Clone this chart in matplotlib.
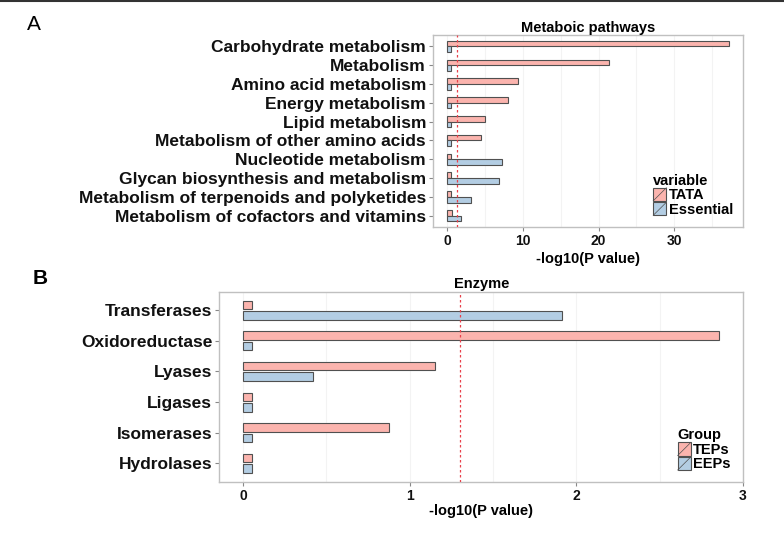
import numpy as np
import matplotlib
matplotlib.use('Agg')
import matplotlib.pyplot as plt
from matplotlib.patches import Rectangle, Patch
from matplotlib.lines import Line2D
from matplotlib.legend_handler import HandlerPatch

plt.rcParams['font.family'] = ['Liberation Sans', 'DejaVu Sans']

# Panel A: metabolic pathways
pathways = ['Carbohydrate metabolism', 'Metabolism', 'Amino acid metabolism',
            'Energy metabolism', 'Lipid metabolism', 'Metabolism of other amino acids',
            'Nucleotide metabolism', 'Glycan biosynthesis and metabolism',
            'Metabolism of terpenoids and polyketides', 'Metabolism of cofactors and vitamins']
tata = [37.2, 21.4, 9.3, 8.1, 5.0, 4.5, 0.5, 0.5, 0.5, 0.65]
essential = [0.55, 0.55, 0.55, 0.55, 0.55, 0.55, 7.2, 6.8, 3.1, 1.9]

# Panel B: enzymes
enzymes = ['Transferases', 'Oxidoreductase', 'Lyases', 'Ligases', 'Isomerases', 'Hydrolases']
teps = [0.055, 2.86, 1.155, 0.055, 0.875, 0.055]
eeps = [1.915, 0.055, 0.42, 0.055, 0.055, 0.055]

threshold = 1.3  # -log10(0.05)

PINK = '#FBB4AE'
BLUE = '#B3CDE3'
EDGE = '#505050'


class SlashHandler(HandlerPatch):
    def create_artists(self, legend, orig_handle, xdescent, ydescent,
                       width, height, fontsize, trans):
        x0, y0 = -xdescent, -ydescent
        r = Rectangle((x0, y0), width, height, facecolor=orig_handle.get_facecolor(),
                      edgecolor=EDGE, linewidth=0.8, transform=trans)
        l = Line2D([x0, x0 + width], [y0, y0 + height], color=EDGE, lw=0.5, transform=trans)
        return [r, l]


def draw_panel(ax, cats, v1, v2, names, title, ticks, minor, legend_title, leg_anchor,
               off, h, title_pad):
    n = len(cats)
    pos = np.arange(n)[::-1] + 1
    ax.barh(pos + off, v1, height=h, color=PINK, edgecolor=EDGE, linewidth=0.8, zorder=3)
    ax.barh(pos - off, v2, height=h, color=BLUE, edgecolor=EDGE, linewidth=0.8, zorder=3)
    vmax = max(max(v1), max(v2))
    ax.set_xlim(-0.05 * vmax, 1.05 * vmax)
    ax.set_ylim(0.4, n + 0.6)
    ax.axvline(threshold, color='#E8404A', lw=0.9, ls=(0, (2, 2)), zorder=4)
    for g in ticks + minor:
        ax.axvline(g, color='#F3F3F3', lw=0.8, zorder=0)
    ax.set_yticks(pos)
    ax.set_yticklabels(cats, fontsize=12.5, fontweight='bold', color='#111111')
    ax.set_xticks(ticks)
    ax.set_xticklabels([str(t) for t in ticks], fontsize=10, fontweight='bold', color='#111111')
    ax.tick_params(length=3, width=0.8, color='#888888', pad=2)
    for s in ax.spines.values():
        s.set_color('#C0C0C0')
        s.set_linewidth(1.0)
    ax.set_title(title, fontsize=10.5, fontweight='bold', pad=title_pad)
    ax.set_xlabel('-log10(P value)', fontsize=10.5, fontweight='bold', labelpad=1)
    handles = [Patch(facecolor=PINK), Patch(facecolor=BLUE)]
    ax.legend(handles, names, title=legend_title, loc='lower right',
              bbox_to_anchor=leg_anchor, frameon=False, fontsize=10.5,
              title_fontproperties={'weight': 'bold', 'size': 10.5},
              prop={'weight': 'bold', 'size': 10.5},
              handlelength=0.9, handleheight=1.0, handletextpad=0.15,
              labelspacing=0.0, borderpad=0.2, alignment='left',
              handler_map={Patch: SlashHandler()})
    return ax


fig = plt.figure(figsize=(7.84, 5.39), dpi=100)

axA = fig.add_axes([0.5523, 0.5788, 0.3954, 0.3562])
draw_panel(axA, pathways, tata, essential, ['TATA', 'Essential'], 'Metaboic pathways',
           [0, 10, 20, 30], [5, 15, 25, 35], 'variable', (1.0, 0.0), 0.15, 0.3, 0.5)
axA.xaxis.set_label_coords(0.5, -0.13)

axB = fig.add_axes([0.2797, 0.1063, 0.6684, 0.3525])
draw_panel(axB, enzymes, teps, eeps, ['TEPs', 'EEPs'], 'Enzyme',
           [0, 1, 2, 3], [0.5, 1.5, 2.5], 'Group', (0.995, 0.0), 0.17, 0.28, 3)

fig.text(0.035, 0.9545, 'A', fontsize=15, ha='left', va='center')
fig.text(0.041, 0.483, 'B', fontsize=15, fontweight='bold', ha='left', va='center')
fig.add_artist(Line2D([0, 1], [0.998, 0.998], color='#333333', lw=1.5, transform=fig.transFigure))

fig.savefig('out.png', dpi=100)
